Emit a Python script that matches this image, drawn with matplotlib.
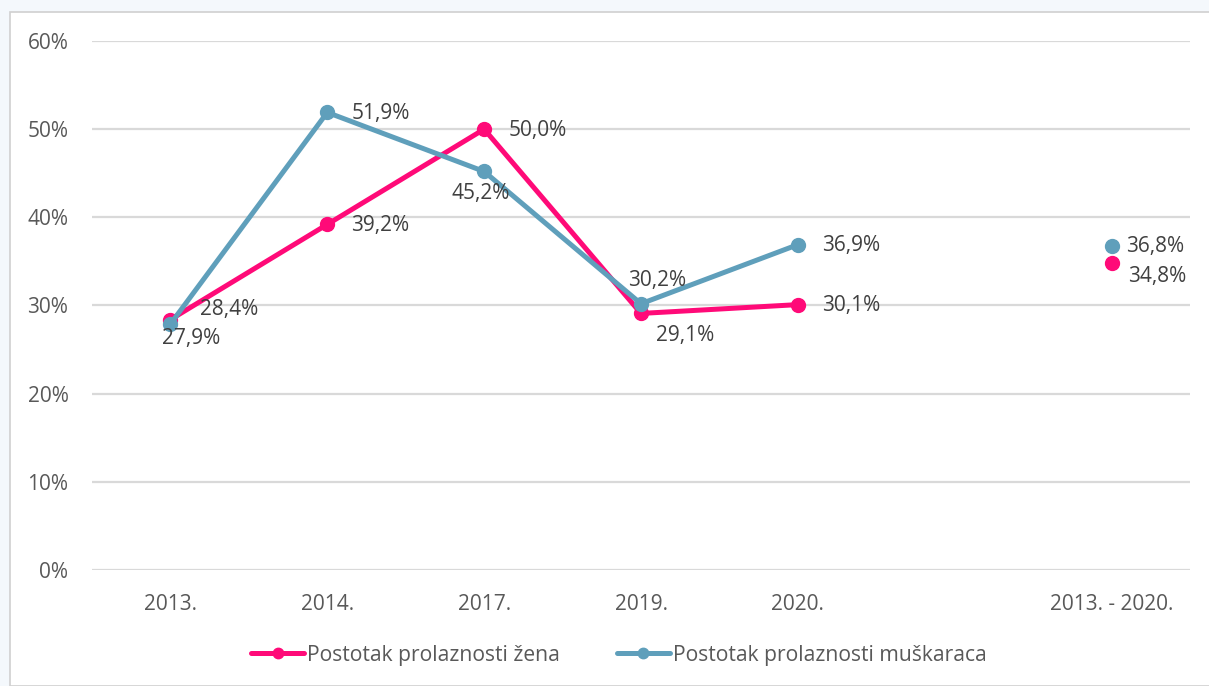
import matplotlib.pyplot as plt
from matplotlib.patches import Rectangle

plt.rcParams['font.family'] = ['Open Sans', 'DejaVu Sans']

# Data
categories = ['2013.', '2014.', '2017.', '2019.', '2020.', '', '2013. - 2020.']
women = [28.4, 39.2, 50.0, 29.1, 30.1, None, 34.8]
men = [27.9, 51.9, 45.2, 30.2, 36.9, None, 36.8]

# label offsets in pixels (dx, dy) from each point
women_offsets = [(30, 10), (24, -1), (24, -1), (15, -22), (24, -1), None, (16, -13)]
men_offsets = [(-8, -14), (24, -1), (-33, -22), (-13, 23), (24, -1), None, (14, -1)]

pink = '#ff0a78'
blue = '#5f9fbb'
text_col = '#595959'

fig = plt.figure(figsize=(12.09, 6.86), dpi=100)
fig.patch.set_facecolor('#f4f8fc')
# white chart panel with thin border
fig.patches.append(Rectangle((10 / 1209, 0), 1.0, 1 - 12 / 686, transform=fig.transFigure,
                             facecolor='white', edgecolor='#d0d0d0', linewidth=1.2, zorder=-5))

ax = fig.add_axes([92 / 1209, 1 - 570 / 686, 1098 / 1209, 529 / 686])
ax.set_facecolor('none')

x = list(range(len(categories)))

# main lines for the yearly points, separate points for the total
wx = x[:5]
wy = women[:5]
mx = x[:5]
my = men[:5]

ax.plot(wx, wy, color=pink, linewidth=3.6, marker='o', markersize=10, zorder=3,
        label='Postotak prolaznosti žena', solid_capstyle='round')
ax.plot(mx, my, color=blue, linewidth=3.6, marker='o', markersize=10, zorder=4,
        label='Postotak prolaznosti muškaraca', solid_capstyle='round')
ax.plot([6], [women[6]], 'o', color=pink, markersize=10, zorder=3)
ax.plot([6], [men[6]], 'o', color=blue, markersize=10, zorder=4)

for vals, offs in ((women, women_offsets), (men, men_offsets)):
    for i, v in enumerate(vals):
        if v is None:
            continue
        ax.annotate(f'{v:.1f}%'.replace('.', ','), (i, v), xytext=offs[i],
                    textcoords='offset pixels', ha='left', va='center',
                    fontsize=15, color='#404040', zorder=5)

ax.set_xlim(-0.5, 6.5)
ax.set_ylim(0, 60)
ax.set_yticks(range(0, 61, 10))
ax.set_yticklabels([f'{t}%' for t in range(0, 61, 10)])
ax.set_xticks(x)
ax.set_xticklabels(categories)
ax.tick_params(axis='both', length=0, labelsize=15, colors=text_col)
ax.tick_params(axis='y', pad=17)
ax.tick_params(axis='x', pad=17)
ax.grid(axis='y', color='#d9d9d9', linewidth=1.6)
ax.set_axisbelow(True)
for s in ax.spines.values():
    s.set_visible(False)

fig.legend(loc='center', bbox_to_anchor=(0.512, 1 - 655 / 686), ncol=2, frameon=False,
           fontsize=15.2, handlelength=2.5, handletextpad=0.15, columnspacing=2.7,
           labelcolor=text_col, markerscale=0.75)

fig.savefig('out.png', dpi=100, facecolor=fig.get_facecolor())
